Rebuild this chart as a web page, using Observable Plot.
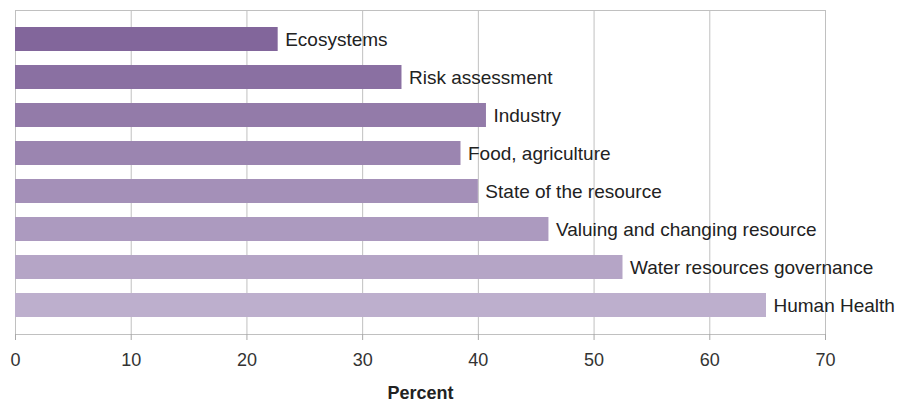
<!DOCTYPE html>
<html>
<head>
<meta charset="utf-8">
<script src="https://cdn.jsdelivr.net/npm/d3@7"></script>
<script src="https://cdn.jsdelivr.net/npm/@observablehq/plot@0.6"></script>
<style>
  body { margin: 0; background: #fff; }
  #chart svg { font-family: "Liberation Sans", Arial, Helvetica, sans-serif; }
  #chart [aria-label="x-axis label"] text { font-weight: bold; fill: #222; font-size: 18px; }
</style>
</head>
<body>
<div id="chart"></div>
<script>
const categories = [
  "Ecosystems",
  "Risk assessment",
  "Industry",
  "Food, agriculture",
  "State of the resource",
  "Valuing and changing resource",
  "Water resources governance",
  "Human Health"
];
const percents = [22.7, 33.4, 40.7, 38.5, 40.0, 46.1, 52.5, 64.9];
const xTicks = [0, 10, 20, 30, 40, 50, 60, 70];

const data = categories.map((c, i) => ({ category: c, percent: percents[i] }));
const barColors = d3.quantize(d3.interpolateRgb("#82669b", "#bdafcd"), categories.length);

const chart = Plot.plot({
  width: 899,
  height: 403,
  marginLeft: 15,
  marginRight: 74,
  marginTop: 10,
  marginBottom: 69,
  style: { fontSize: "18px", color: "#333", background: "#fff" },
  x: { domain: [0, 70], ticks: xTicks, label: null },
  y: { domain: categories, padding: 0.37, axis: null },
  color: { type: "ordinal", domain: categories, range: barColors },
  marks: [
    Plot.gridX(xTicks, { stroke: "#c0c0c0", strokeOpacity: 1 }),
    Plot.frame({ stroke: "#c0c0c0" }),
    Plot.barX(data, { x: "percent", y: "category", fill: "category" }),
    Plot.text(data, {
      x: "percent", y: "category", text: "category",
      textAnchor: "start", dx: 7, fontSize: 19, fill: "#222"
    }),
    Plot.axisX({
      ticks: xTicks, tickSize: 6, tickPadding: 13, stroke: "#a8a8a8",
      fill: "#333", fontSize: 18,
      label: "Percent", labelAnchor: "center", labelArrow: "none", labelOffset: 64
    })
  ]
});
document.getElementById("chart").appendChild(chart);
</script>
</body>
</html>
